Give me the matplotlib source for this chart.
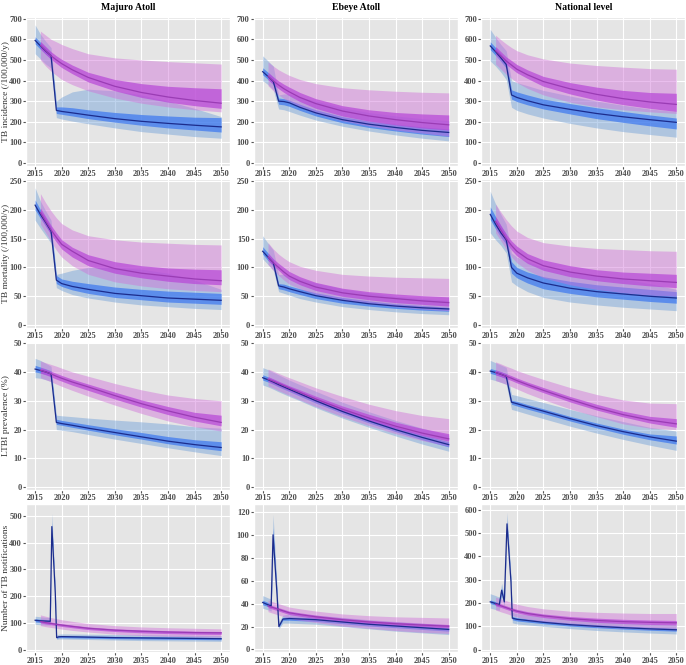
import matplotlib.pyplot as plt

plt.style.use('ggplot')
plt.rcParams['font.family'] = ['Liberation Serif', 'DejaVu Serif']

# --- data ---
# each table: [median, lower 95%, lower 50%, upper 50%, upper 95%]
sites = ['Majuro Atoll', 'Ebeye Atoll', 'National level']
metrics = ['TB incidence (/100,000/y)', 'TB mortality (/100,000/y)',
           'LTBI prevalence (%)', 'Number of TB notifications']

int_yr = [2015, 2016, 2017, 2018, 2019, 2020, 2022, 2025, 2030, 2035, 2040, 2045, 2050]
base_yr = [2016, 2017, 2018, 2019, 2020, 2022, 2025, 2030, 2035, 2040, 2045, 2050]

# TB incidence
maj_inc_int = [[595, 568, 543, 520, 255, 250, 243, 232, 215, 202, 192, 183, 175],
               [530, 505, 480, 460, 220, 213, 203, 190, 170, 152, 140, 128, 120],
               [578, 552, 527, 505, 240, 236, 228, 215, 198, 183, 170, 160, 150],
               [612, 585, 560, 535, 272, 272, 268, 258, 245, 235, 228, 222, 220],
               [670, 625, 590, 560, 300, 320, 345, 358, 350, 330, 300, 265, 225]]
maj_inc_base = [[570, 545, 520, 500, 482, 452, 415, 372, 342, 320, 303, 290],
                [500, 470, 445, 425, 405, 380, 350, 315, 290, 272, 258, 248],
                [555, 528, 503, 483, 463, 433, 393, 350, 318, 295, 278, 265],
                [590, 565, 540, 520, 503, 475, 440, 405, 385, 372, 365, 360],
                [640, 620, 600, 588, 575, 555, 530, 510, 500, 492, 486, 480]]
ebe_inc_int = [[443, 420, 395, 300, 298, 292, 270, 243, 210, 188, 172, 158, 148],
               [400, 380, 355, 262, 258, 250, 232, 208, 178, 155, 136, 120, 107],
               [428, 405, 380, 285, 282, 275, 255, 228, 195, 172, 155, 140, 128],
               [462, 440, 415, 315, 312, 305, 285, 258, 225, 203, 188, 175, 165],
               [520, 495, 470, 330, 335, 335, 320, 300, 268, 245, 228, 215, 205]]
ebe_inc_base = [[420, 398, 378, 360, 345, 318, 288, 252, 228, 210, 196, 185],
                [375, 350, 330, 312, 298, 272, 240, 205, 180, 160, 145, 130],
                [405, 382, 360, 342, 326, 298, 265, 228, 203, 185, 170, 160],
                [440, 418, 398, 382, 368, 342, 312, 278, 258, 245, 238, 233],
                [490, 470, 452, 438, 425, 405, 385, 365, 355, 348, 343, 340]]
nat_inc_int = [[568, 540, 510, 478, 330, 318, 302, 282, 260, 240, 224, 210, 197],
               [495, 470, 440, 405, 270, 255, 238, 218, 192, 170, 152, 138, 125],
               [550, 522, 492, 460, 310, 298, 282, 262, 238, 215, 197, 180, 165],
               [588, 560, 530, 498, 355, 345, 330, 310, 288, 268, 250, 233, 218],
               [648, 610, 575, 545, 400, 390, 375, 352, 325, 300, 280, 262, 250]]
nat_inc_base = [[545, 520, 495, 475, 455, 428, 395, 360, 333, 312, 296, 284],
                [480, 455, 430, 410, 390, 362, 330, 295, 272, 258, 248, 240],
                [528, 503, 478, 458, 438, 410, 372, 335, 305, 283, 265, 250],
                [565, 540, 515, 497, 478, 452, 420, 390, 368, 352, 342, 338],
                [620, 598, 578, 560, 545, 525, 505, 485, 473, 465, 458, 455]]

# TB mortality
maj_mor_int = [[208, 192, 178, 163, 78, 72, 67, 62, 55, 51, 47, 45, 43],
               [182, 168, 155, 142, 65, 60, 53, 47, 40, 35, 32, 29, 27],
               [200, 185, 171, 157, 72, 67, 61, 55, 48, 44, 40, 38, 36],
               [217, 200, 186, 170, 86, 80, 76, 72, 66, 62, 59, 57, 55],
               [238, 215, 198, 182, 88, 90, 95, 100, 100, 97, 90, 78, 62]]
maj_mor_base = [[195, 180, 165, 152, 140, 128, 112, 98, 90, 85, 80, 77],
                [175, 160, 145, 130, 118, 103, 88, 75, 68, 63, 60, 58],
                [188, 172, 157, 144, 132, 118, 103, 90, 82, 76, 72, 70],
                [203, 188, 173, 160, 148, 135, 122, 110, 103, 99, 97, 96],
                [228, 212, 198, 186, 176, 165, 155, 148, 144, 142, 140, 139]]
ebe_mor_int = [[128, 118, 108, 68, 66, 63, 58, 51, 43, 37, 33, 30, 28],
               [115, 105, 95, 58, 55, 52, 46, 40, 32, 27, 23, 20, 18],
               [123, 112, 102, 63, 61, 58, 53, 46, 38, 33, 29, 26, 24],
               [136, 125, 114, 72, 71, 68, 63, 56, 48, 42, 37, 34, 31],
               [155, 142, 130, 88, 88, 86, 80, 73, 63, 56, 50, 46, 43]]
ebe_mor_base = [[118, 108, 100, 92, 85, 76, 66, 56, 50, 46, 42, 39],
                [105, 95, 86, 78, 71, 63, 53, 43, 37, 32, 28, 25],
                [113, 103, 95, 86, 79, 70, 60, 50, 44, 39, 36, 33],
                [125, 115, 107, 100, 93, 84, 74, 64, 58, 54, 51, 49],
                [143, 132, 123, 116, 110, 102, 95, 88, 85, 83, 82, 81]]
nat_mor_int = [[192, 175, 160, 148, 100, 90, 82, 73, 64, 58, 54, 50, 47],
               [160, 148, 138, 125, 75, 68, 58, 48, 40, 35, 31, 28, 25],
               [183, 167, 152, 140, 90, 82, 73, 63, 55, 49, 45, 41, 38],
               [205, 188, 172, 158, 110, 100, 92, 84, 76, 70, 66, 62, 58],
               [232, 210, 192, 175, 125, 118, 110, 100, 92, 86, 80, 72, 62]]
nat_mor_base = [[180, 165, 150, 138, 128, 115, 103, 92, 85, 80, 77, 74],
                [160, 146, 132, 118, 108, 95, 82, 70, 62, 56, 52, 50],
                [172, 157, 143, 130, 120, 107, 95, 84, 77, 72, 68, 65],
                [188, 173, 158, 146, 137, 124, 113, 103, 96, 92, 90, 88],
                [210, 196, 183, 172, 163, 152, 143, 137, 133, 131, 129, 128]]

# LTBI prevalence
maj_ltbi_int = [[41, 40.5, 40, 39.3, 22.5, 22.1, 21.5, 20.5, 19, 17.5, 16, 14.8, 13.8],
                [38, 37.8, 37.3, 36.7, 20, 19.8, 19.3, 18.3, 16.7, 15.2, 13.7, 12.3, 11],
                [40, 39.6, 39.1, 38.5, 21.8, 21.5, 20.8, 19.8, 18.2, 16.7, 15.1, 13.8, 12.7],
                [42.3, 41.7, 41.1, 40.4, 23.6, 23.2, 22.6, 21.7, 20.3, 19, 17.6, 16.5, 15.8],
                [44.7, 44, 43, 42, 25, 24.8, 24.5, 24, 23.3, 22.7, 22, 21, 20.5]]
maj_ltbi_base = [[40.6, 40, 39.3, 38.5, 37.8, 36.5, 34.8, 31.8, 29, 26.5, 24.3, 22.5],
                 [38, 37.3, 36.6, 35.8, 35, 33.6, 31.6, 28.5, 25.6, 23, 21, 19.5],
                 [39.6, 39, 38.3, 37.5, 36.8, 35.4, 33.6, 30.6, 27.8, 25.2, 23, 21.3],
                 [41.5, 40.9, 40.2, 39.5, 38.8, 37.5, 35.8, 33, 30.3, 28, 26, 25],
                 [43.8, 43.2, 42.6, 42, 41.3, 40, 38.5, 36, 33.8, 32, 30.8, 30]]
ebe_ltbi_int = [[38, 37.3, 36.5, 35.6, 34.8, 34, 32.4, 30, 26.3, 23, 20, 17.3, 14.8],
                [35.5, 34.8, 34, 33.1, 32.3, 31.5, 30, 27.6, 24, 20.8, 17.8, 15, 12.5],
                [37.2, 36.5, 35.7, 34.8, 34, 33.2, 31.6, 29.2, 25.6, 22.3, 19.3, 16.5, 14],
                [39, 38.3, 37.5, 36.6, 35.8, 35, 33.4, 31, 27.3, 24, 21, 18.2, 15.8],
                [41.5, 40.8, 39.9, 39, 38.1, 37.2, 35.6, 33.3, 29.5, 26.2, 23.2, 20.5, 18]]
ebe_ltbi_base = [[37.5, 36.8, 36, 35.2, 34.4, 32.9, 30.6, 27.1, 24, 21.2, 18.8, 16.8],
                 [35.2, 34.4, 33.5, 32.7, 31.9, 30.3, 28, 24.5, 21.4, 18.6, 16.2, 14.2],
                 [36.8, 36, 35.2, 34.4, 33.6, 32.1, 29.8, 26.3, 23.2, 20.4, 18, 16],
                 [38.4, 37.6, 36.8, 36, 35.2, 33.8, 31.6, 28.2, 25.3, 22.6, 20.4, 18.6],
                 [41, 40.3, 39.5, 38.7, 38, 36.6, 34.5, 31.5, 28.8, 26.6, 24.9, 23.8]]
nat_ltbi_int = [[40.3, 39.8, 39.2, 38.5, 29.5, 29, 27.9, 26.4, 23.8, 21.4, 19.3, 17.5, 16],
                [37.5, 37, 36.4, 35.7, 27, 26.5, 25.4, 23.8, 21.2, 18.8, 16.6, 14.6, 12.8],
                [39.5, 39, 38.4, 37.7, 28.8, 28.2, 27.1, 25.6, 23, 20.6, 18.4, 16.5, 15],
                [41.2, 40.7, 40.1, 39.4, 30.2, 29.8, 28.7, 27.2, 24.6, 22.3, 20.2, 18.5, 17.8],
                [44, 43.2, 42.4, 41.6, 32.2, 31.8, 30.8, 29.4, 27, 24.8, 22.8, 20.8, 19.5]]
nat_ltbi_base = [[39.8, 39.2, 38.5, 37.8, 37, 35.6, 33.6, 30.5, 27.6, 25.2, 23.3, 22],
                 [37, 36.4, 35.7, 34.9, 34.1, 32.5, 30.4, 27.2, 24.5, 22, 20.5, 20],
                 [39, 38.4, 37.7, 37, 36.2, 34.8, 32.8, 29.6, 26.8, 24.4, 22.3, 20.8],
                 [40.7, 40.1, 39.4, 38.7, 37.9, 36.5, 34.6, 31.5, 28.8, 26.4, 24.6, 23.8],
                 [43.5, 42.8, 42, 41.3, 40.5, 39.2, 37.4, 34.6, 32.2, 30.3, 29.2, 29]]

# TB notifications (intervention years differ by site)
maj_not_yr = [2015, 2016, 2017, 2017.85, 2018.15, 2018.8, 2019.05, 2019.4, 2020,
              2025, 2030, 2035, 2040, 2045, 2050]
maj_not_int = [[110, 108, 107, 106, 460, 210, 45, 48, 49, 47, 45, 44, 43, 42, 41],
               [95, 93, 92, 92, 420, 190, 38, 40, 40, 38, 36, 34, 33, 32, 31],
               [104, 102, 101, 100, 445, 202, 42, 45, 45, 43, 41, 40, 39, 38, 37],
               [115, 114, 113, 112, 475, 218, 48, 52, 53, 51, 50, 49, 48, 47, 46],
               [125, 123, 121, 120, 510, 232, 55, 58, 59, 58, 57, 56, 55, 54, 53]]
maj_not_base = [[105, 101, 98, 95, 92, 87, 80, 73, 69, 66, 64, 63],
                [90, 86, 83, 80, 77, 72, 66, 58, 53, 50, 48, 47],
                [100, 96, 93, 90, 87, 82, 75, 68, 63, 60, 58, 57],
                [110, 106, 103, 100, 97, 92, 85, 78, 74, 71, 69, 68],
                [130, 125, 120, 116, 112, 106, 98, 90, 85, 82, 80, 78]]
ebe_not_yr = [2015, 2016, 2016.6, 2016.95, 2017.7, 2018.05, 2018.8, 2020,
              2025, 2030, 2035, 2040, 2045, 2050]
ebe_not_int = [[41, 39, 38, 100, 48, 20, 26.5, 27, 26, 24, 22, 20.5, 19, 17.5],
               [36, 34.5, 33.5, 85, 42, 18, 23, 23, 22, 20, 18, 16, 14.5, 13],
               [39, 37.5, 36.5, 95, 46, 19.5, 25.5, 25.5, 24.5, 22.5, 20.5, 19, 17.5, 16],
               [43, 41, 40, 106, 50, 21.5, 28, 28.5, 27.5, 25.5, 23.5, 22, 20.5, 19],
               [47, 45, 44, 118, 56, 24, 30, 31, 30, 28, 26, 24.5, 23, 21.5]]
ebe_not_base = [[38, 36.5, 35, 33.5, 32, 30.5, 28.5, 26, 24, 22.5, 21.3, 20.3],
                [33, 31.5, 30, 28.5, 27, 25.5, 23.5, 20.5, 18.5, 16.5, 15, 14],
                [36.5, 35, 33.5, 32, 30.5, 29, 27, 24.5, 22.5, 21, 19.8, 18.8],
                [39.5, 38, 36.5, 35, 33.5, 32, 30, 27.5, 25.5, 24, 22.8, 21.8],
                [43, 41.5, 40, 38.5, 37, 35.5, 33.5, 31, 29.5, 28.5, 28, 27.5]]
nat_not_yr = [2015, 2016, 2016.7, 2017.15, 2017.65, 2018.15, 2018.9, 2019.15, 2020,
              2025, 2030, 2035, 2040, 2045, 2050]
nat_not_int = [[205, 198, 193, 255, 205, 540, 290, 135, 130, 117, 107, 100, 94, 89, 85],
               [178, 172, 168, 225, 185, 500, 265, 115, 110, 100, 90, 82, 76, 71, 67],
               [198, 191, 186, 245, 198, 525, 282, 128, 123, 111, 101, 94, 88, 83, 79],
               [213, 206, 200, 265, 212, 555, 298, 142, 137, 124, 114, 107, 101, 96, 92],
               [240, 232, 225, 285, 230, 590, 320, 160, 155, 140, 130, 122, 116, 111, 107]]
nat_not_base = [[195, 188, 180, 172, 165, 155, 145, 133, 125, 120, 117, 115],
                [170, 162, 155, 147, 140, 130, 120, 107, 98, 92, 88, 85],
                [188, 181, 173, 165, 158, 148, 138, 126, 117, 112, 108, 106],
                [203, 196, 188, 180, 173, 163, 153, 142, 135, 130, 127, 125],
                [225, 218, 210, 202, 195, 185, 175, 165, 160, 157, 155, 155]]

# y-axis range and tick step per panel
row_ylim = [(-14, 707), (-5, 252.5), (-1, 50.5)]
row_ystep = [100, 50, 10]
not_ylim = [(-10, 545), (-2.5, 127), (-12, 626)]
not_ystep = [100, 20, 100]

grid = [
    [(int_yr, maj_inc_int, maj_inc_base), (int_yr, ebe_inc_int, ebe_inc_base), (int_yr, nat_inc_int, nat_inc_base)],
    [(int_yr, maj_mor_int, maj_mor_base), (int_yr, ebe_mor_int, ebe_mor_base), (int_yr, nat_mor_int, nat_mor_base)],
    [(int_yr, maj_ltbi_int, maj_ltbi_base), (int_yr, ebe_ltbi_int, ebe_ltbi_base), (int_yr, nat_ltbi_int, nat_ltbi_base)],
    [(maj_not_yr, maj_not_int, maj_not_base), (ebe_not_yr, ebe_not_int, ebe_not_base), (nat_not_yr, nat_not_int, nat_not_base)],
]

# colours: (outer band, inner band, median line)
blue = ('#6f9fd8', '#3c78f0', '#1c2c8c')
pink = ('#d070d8', '#b848d8', '#9a3cb4')


def draw(ax, yr, vals, cols):
    med, lo95, lo50, hi50, hi95 = vals
    ax.fill_between(yr, lo95, hi95, color=cols[0], alpha=0.45, lw=0)
    ax.fill_between(yr, lo50, hi50, color=cols[1], alpha=0.72, lw=0)
    ax.plot(yr, med, color=cols[2], lw=0.9)


fig, axes = plt.subplots(4, 3, figsize=(6.86, 6.65), dpi=100)
fig.subplots_adjust(left=0.038, right=0.999, top=0.974, bottom=0.019,
                    wspace=0.115, hspace=0.092)

for r in range(4):
    for c in range(3):
        ax = axes[r, c]
        yr, vint, vbase = grid[r][c]
        draw(ax, yr, vint, blue)
        draw(ax, base_yr, vbase, pink)
        if r < 3:
            lo, hi = row_ylim[r]
            step = row_ystep[r]
        else:
            lo, hi = not_ylim[c]
            step = not_ystep[c]
        ax.set_ylim(lo, hi)
        ax.set_yticks(range(0, int(hi) + 1, step))
        ax.set_xlim(2013.3, 2051.7)
        ax.set_xticks(range(2015, 2051, 5))
        ax.grid(color='white', lw=0.8)
        ax.tick_params(labelsize=6, colors='#555555', length=2.2, pad=0.8)
        for lab in ax.get_xticklabels() + ax.get_yticklabels():
            lab.set_fontweight('bold')
            lab.set_color('#4d4d4d')
        if c == 0:
            ax.set_ylabel(metrics[r], fontsize=6.8, color='#333333')
            ax.yaxis.set_label_coords(-0.08, 0.5)
        if r == 0:
            ax.set_title(sites[c], fontsize=7, fontweight='bold', color='black', pad=5)

fig.savefig('out.png', dpi=100)
